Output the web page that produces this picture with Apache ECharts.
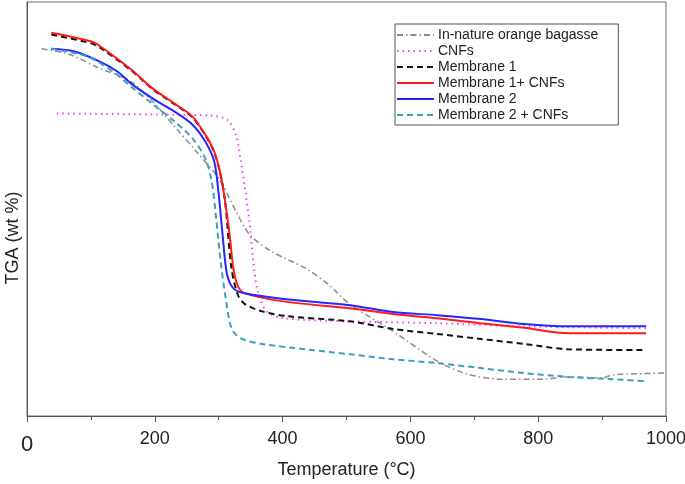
<!DOCTYPE html>
<html>
<head>
<meta charset="utf-8">
<script src="https://cdn.jsdelivr.net/npm/echarts@6/dist/echarts.min.js"></script>
<style>
  html, body { margin: 0; padding: 0; background: #fff; }
  #tgaChart { width: 685px; height: 484px; }
</style>
</head>
<body>
<div id="tgaChart"></div>
<script>
// x tick labels (deg C)
const xTicks = [0, 200, 400, 600, 800, 1000];

// curves: [temperature, wt %]
const bagasse = [[23, 95.8], [67, 94.3], [108, 91.1], [163, 87.2], [197, 82.0], [231, 75.5], [265, 69.0],
  [300, 62.0], [327, 53.4], [348, 47.4], [382, 43.0], [436, 38.5], [471, 34.4], [505, 29.2], [573, 22.1],
  [642, 14.3], [690, 10.9], [744, 9.6], [806, 9.6], [847, 10.2], [901, 9.9], [915, 10.7], [1000, 11.2]];

const cnfs = [[47, 78.9], [231, 78.6], [286, 78.4], [313, 77.3], [327, 73.4], [334, 67.2], [341, 59.4],
  [348, 50.8], [354, 40.4], [361, 32.6], [375, 27.3], [402, 25.5], [505, 24.7], [642, 24.2], [778, 23.4],
  [969, 22.9]];

const membrane1 = [[38, 99.5], [101, 97.2], [115, 96.0], [163, 90.2], [197, 85.2], [231, 81.3], [259, 77.9],
  [279, 73.2], [293, 68.8], [303, 62.8], [310, 56.0], [320, 38.5], [330, 31.6], [341, 29.2], [368, 27.3],
  [409, 26.0], [505, 24.7], [573, 22.7], [642, 21.4], [710, 20.1], [778, 18.8], [847, 17.4], [969, 17.2]];

const membrane1Cnf = [[38, 100.0], [101, 97.7], [115, 96.4], [163, 90.4], [197, 85.4], [231, 81.5],
  [259, 78.1], [279, 73.4], [293, 69.0], [303, 63.0], [310, 56.0], [317, 47.4], [323, 38.5], [330, 33.9],
  [341, 32.0], [402, 29.9], [505, 28.1], [573, 26.6], [642, 25.5], [710, 24.2], [778, 23.0], [847, 21.6],
  [969, 21.6]];

const membrane2 = [[38, 95.8], [74, 95.1], [115, 92.4], [142, 89.8], [163, 86.7], [197, 82.8], [231, 79.4],
  [259, 76.0], [279, 71.6], [293, 66.4], [300, 57.8], [306, 47.4], [313, 37.0], [323, 33.3], [341, 32.0],
  [402, 30.5], [505, 28.9], [573, 27.1], [642, 26.3], [710, 25.3], [778, 24.0], [847, 23.4], [969, 23.4]];

const membrane2Cnf = [[38, 95.8], [94, 93.8], [135, 89.8], [163, 85.9], [197, 81.3], [231, 76.8],
  [259, 72.4], [279, 67.2], [289, 61.2], [296, 51.6], [303, 40.4], [310, 31.8], [320, 22.9], [334, 20.3],
  [368, 18.8], [436, 17.4], [505, 16.1], [573, 14.8], [642, 13.8], [710, 12.5], [778, 11.2], [847, 10.2],
  [915, 9.6], [969, 9.1]];

const names = ['In-nature orange bagasse', 'CNFs', 'Membrane 1', 'Membrane 1+ CNFs', 'Membrane 2', 'Membrane 2 + CNFs'];

var chartDom = document.getElementById('tgaChart');
var myChart = echarts.init(chartDom);

function line(name, data, color, type, width) {
  return {
    name: name,
    type: 'line',
    data: data,
    symbol: 'none',
    smooth: 0.3,
    lineStyle: { color: color, type: type, width: width },
    itemStyle: { color: color }
  };
}

var font = 'Liberation Sans';

var option = {
  animation: false,
  grid: {
    left: 27, right: 19, top: 2, bottom: 68,
    outerBoundsMode: 'none',
    show: true, borderColor: '#6e6e6e', borderWidth: 1
  },
  legend: {
    orient: 'vertical',
    left: 395,
    top: 24,
    padding: [4, 20, 3, 1],
    itemGap: 2,
    itemWidth: 37,
    itemHeight: 14,
    borderColor: '#555',
    borderWidth: 1,
    itemStyle: { opacity: 0 },
    lineStyle: { width: 2 },
    data: names,
    textStyle: { fontFamily: font, fontSize: 14, color: '#222', padding: [0, 0, 0, -1] }
  },
  graphic: [{
    type: 'text',
    x: 13,
    y: 238,
    rotation: Math.PI / 2,
    style: {
      text: 'TGA (wt %)',
      font: '18px "Liberation Sans"',
      fill: '#222',
      align: 'center',
      verticalAlign: 'middle'
    }
  }],
  xAxis: {
    type: 'value',
    min: 0,
    max: 1000,
    interval: 200,
    name: 'Temperature (\u00B0C)',
    nameLocation: 'middle',
    nameGap: 43,
    nameTextStyle: { fontFamily: font, fontSize: 18, color: '#222' },
    axisLine: { lineStyle: { color: '#555', width: 1 } },
    axisTick: { show: true, length: 6, lineStyle: { color: '#555' } },
    minorTick: { show: true, splitNumber: 2, length: 4, lineStyle: { color: '#555' } },
    axisLabel: {
      fontFamily: font,
      fontSize: 18,
      color: '#222',
      margin: 14,
      formatter: function (v) { return v === 0 ? '{z|0}' : String(v); },
      rich: { z: { fontFamily: font, fontSize: 22, color: '#222', padding: [4, 0, 0, 0] } }
    },
    splitLine: { show: false }
  },
  yAxis: {
    type: 'value',
    min: 0,
    max: 108,
    axisLine: { show: true, lineStyle: { color: '#555' } },
    axisTick: { show: false },
    axisLabel: { show: false },
    splitLine: { show: false }
  },
  series: [
    line(names[0], bagasse, '#8c8c8c', [6, 3, 1.5, 3], 1.5),
    line(names[1], cnfs, '#ff3cf0', [1.5, 4], 2),
    line(names[2], membrane1, '#111111', [6, 4], 2),
    line(names[3], membrane1Cnf, '#ff1a1a', 'solid', 2),
    line(names[4], membrane2, '#2626ff', 'solid', 2),
    line(names[5], membrane2Cnf, '#3aa0c0', [6, 4], 2)
  ]
};
myChart.setOption(option);
</script>
</body>
</html>
